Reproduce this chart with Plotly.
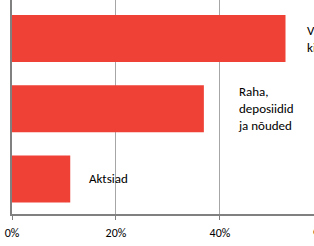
import plotly.graph_objects as go

categories = ["Aktsiad", "Raha, deposiidid ja nõuded", "Vabatahtlik kindlustus"]
label_texts = ["Aktsiad", "Raha,<br>deposiidid<br>ja nõuded", "Vabatahtlik<br>kindlustus"]
values = [11.2, 36.9, 52.6]
label_shift = [17, 32, 19]
tick_vals = [0, 20, 40]
tick_text = ["0%", "20%", "40%"]
extra_tick_val = 60
extra_tick_text = "60%"

x_max = 58.08
font_family = "Carlito, Lato, Open Sans, sans-serif"

fig = go.Figure()
fig.add_trace(go.Bar(
    y=categories, x=values, orientation="h",
    marker=dict(color="#EF4136", line=dict(width=0)),
    hoverinfo="skip",
))

for cat, txt, v, s in zip(categories, label_texts, values, label_shift):
    fig.add_annotation(
        x=v, y=cat, xref="x", yref="y", text=txt, showarrow=False,
        xanchor="left", yanchor="middle", align="left", xshift=s,
        font=dict(family=font_family, size=13, color="#000000"),
    )

# partially visible tick label beyond the right edge
fig.add_annotation(
    x=extra_tick_val / x_max, y=0, xref="paper", yref="paper",
    text=extra_tick_text, showarrow=False, xanchor="center", yanchor="top",
    yshift=-8,
    font=dict(family=font_family, size=12, color="#000000"),
)

fig.update_layout(
    width=314, height=246,
    margin=dict(l=12, r=0, t=0, b=32, autoexpand=False),
    paper_bgcolor="white", plot_bgcolor="white",
    bargap=0.33,
    showlegend=False,
    xaxis=dict(
        range=[0, x_max], tickvals=tick_vals, ticktext=tick_text,
        automargin=False,
        showgrid=True, gridcolor="#A6A6A6", gridwidth=1,
        zeroline=False, showline=True, linecolor="#808080", linewidth=2,
        ticks="outside", ticklen=4, tickcolor="#808080", tickwidth=1,
        ticklabelstandoff=3,
        tickfont=dict(family=font_family, size=12, color="#000000"),
        fixedrange=True,
    ),
    yaxis=dict(
        categoryorder="array", categoryarray=categories,
        range=[-0.5, 2.55], showticklabels=False, showgrid=False,
        automargin=False,
        zeroline=False, showline=True, linecolor="#808080", linewidth=2,
        ticks="", fixedrange=True,
    ),
)

fig.write_html(
    "out.html",
    config={"displayModeBar": False, "staticPlot": True},
    post_script="document.body.style.margin='0';document.body.style.overflow='hidden';",
)
